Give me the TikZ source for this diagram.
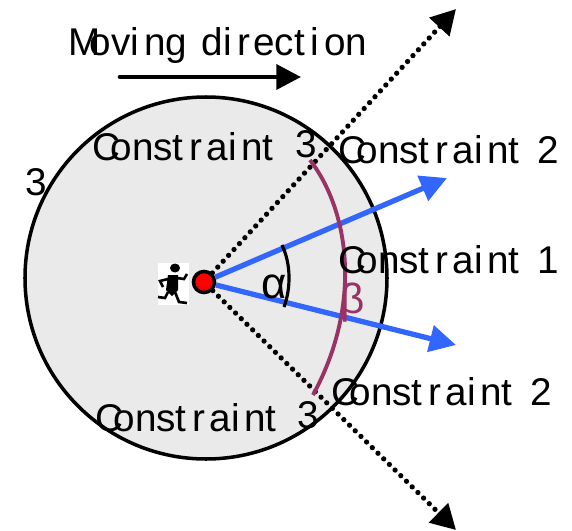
\documentclass[tikz,border=0pt]{standalone}
\usepackage{fontspec}
\setmainfont{Liberation Sans}
\usetikzlibrary{arrows.meta}
\definecolor{planblue}{HTML}{3366FF}
\definecolor{planplum}{HTML}{993366}
\definecolor{planfill}{HTML}{EAEAEA}
\newcommand{\cons}{C\kern-.24em onst\kern.14em r\kern.12em ai\kern.12em nt}
\tikzset{
  label/.style={font=\fontsize{22}{26}\selectfont, anchor=base west, inner sep=0pt, outer sep=0pt},
  dotline/.style={line width=3pt, line cap=round, dash pattern=on 0pt off 4.55pt, -{Triangle[length=14pt,width=15pt,line cap=butt]}},
  bluearrow/.style={planblue, line width=3pt, -{Triangle[length=15pt,width=15pt]}}
}
\begin{document}
\begin{tikzpicture}[x=0.02cm,y=-0.02cm]
  \useasboundingbox (0,0) rectangle (572,531);

  % Disc
  \draw[fill=planfill, line width=2pt] (206,278) circle (181);

  % Free ends
  \coordinate (dotup) at (456,9);
  \coordinate (dotdown) at (456,530);
  \coordinate (blueup) at (447,178);
  \coordinate (bluedown) at (456,345);
  \coordinate (moveleft) at (120,77);
  \coordinate (moveright) at (301,77);

  % Runner
  \fill[white] (158,263) rectangle (189,305);
  \fill (175,268) ellipse (5 and 4.5);
  \fill (168,275) -- (178,275) -- (178,290) -- (172,296) -- (166,290) -- cycle;
  \draw[line width=1.5pt] (168,279) -- (160,281) -- (163,287);
  \draw[line width=1.5pt] (177,278) -- (184,279) -- (187,274);
  \draw[line width=1.5pt] (168,292) -- (165,298) -- (158,297);
  \draw[line width=1.5pt] (175,292) -- (179,302) -- (187,303);

  % Heading point
  \node[circle, fill=red, draw, line width=2pt, minimum size=12pt, inner sep=0pt] (walker) at (204,282) {};

  \draw[dotline] (walker) -- (dotup);
  \draw[dotline] (walker) -- (dotdown);
  \draw[bluearrow] (walker) -- (blueup);
  \draw[bluearrow] (walker) -- (bluedown);
  \draw[line width=2.6pt, line cap=round, -{Triangle[length=14pt,width=14pt]}] (moveleft) -- (moveright);

  % Angles
  \draw[line width=1.8pt] (282,245) .. controls (291,264) and (291,288) .. (284,307);
  \draw[planplum, line width=2.2pt] (310,160) .. controls (350,212) and (362,305) .. (313,395);

  % Labels
  \node[label] (move) at (69,55) {M\kern-.3em ovi\kern.14em ng\kern.1em\ di\kern.14em r\kern.08em ect\kern.14em i\kern.14em on};
  \node[label] (topc) at (92,160) {\cons};
  \node[label] (topn) at (295,157) {3};
  \node[label] (sidec) at (26,195) {3};
  \node[label] (upc) at (338,163) {\cons\ \ \kern-.1em 2};
  \node[label] (midc) at (338,273) {\cons\ \ \kern-.1em 1};
  \node[label] (lowc) at (331,405) {\cons\ \ \kern-.1em 2};
  \node[label] (botc) at (95,431) {\cons};
  \node[label] (botn) at (297,428) {3};
  \node[label, font=\fontsize{25}{28}\selectfont] (alpha) at (261,298) {α};
  \node[label, font=\fontsize{24}{28}\selectfont, text=planplum] (beta) at (340,313) {β};
\end{tikzpicture}
\end{document}
